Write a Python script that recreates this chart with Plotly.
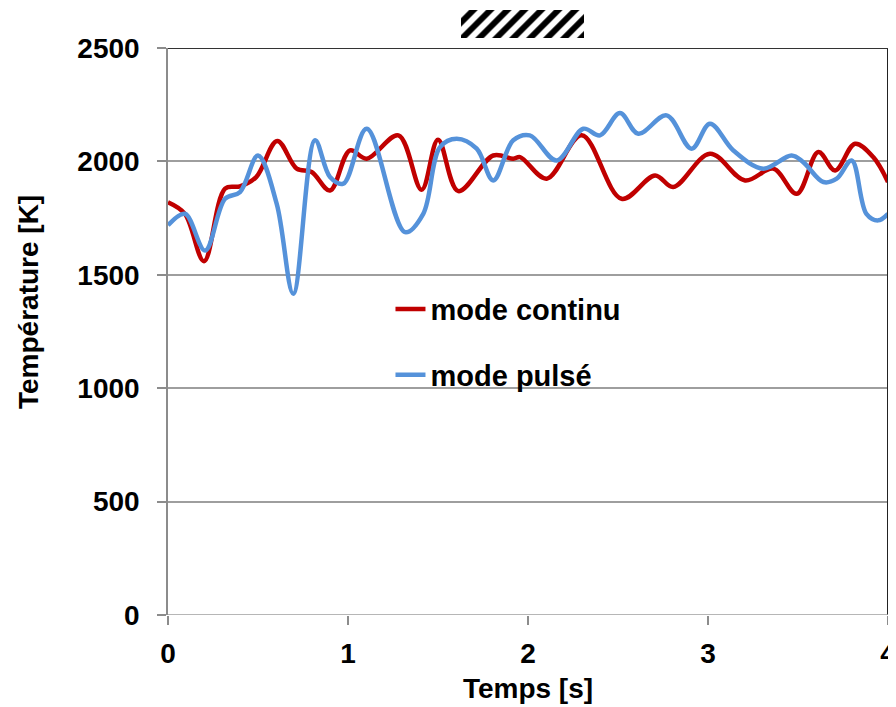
import plotly.graph_objects as go

# Data
t_continu = [0.0, 0.094, 0.20, 0.317, 0.40, 0.49, 0.607, 0.715, 0.798, 0.90, 1.011, 1.104, 1.28, 1.409,
             1.50, 1.613, 1.807, 1.918, 1.956, 2.104, 2.298, 2.52, 2.706, 2.807, 3.011, 3.206, 3.363,
             3.493, 3.613, 3.706, 3.817, 3.918, 4.0]
T_continu = [1820, 1769, 1560, 1880, 1890, 1931, 2090, 1968, 1953, 1872, 2049, 2012, 2115, 1875,
             2096, 1869, 2026, 2012, 2019, 1924, 2115, 1835, 1938, 1887, 2034, 1916, 1968,
             1857, 2041, 1960, 2078, 2019, 1909]

t_pulse = [0.0, 0.094, 0.206, 0.317, 0.40, 0.50, 0.604, 0.696, 0.817, 0.90, 0.974, 1.104, 1.317, 1.418,
           1.511, 1.604, 1.715, 1.807, 1.918, 2.01, 2.159, 2.307, 2.40, 2.511, 2.613, 2.77, 2.909,
           3.011, 3.141, 3.307, 3.464, 3.529, 3.641, 3.715, 3.798, 3.88, 3.946, 4.0]
T_pulse = [1718, 1769, 1607, 1835, 1865, 2026, 1813, 1416, 2093, 1931, 1902, 2144, 1688, 1769,
           2063, 2100, 2056, 1916, 2093, 2115, 2004, 2144, 2115, 2213, 2122, 2203, 2056,
           2166, 2048, 1968, 2026, 1997, 1909, 1924, 2004, 1769, 1740, 1769]

hatch_start = [1.63]
hatch_length = [0.68]

x_ticks = [0, 1, 2, 3, 4]
y_ticks = [0, 500, 1000, 1500, 2000, 2500]

x_title = "Temps [s]"
y_title = "Température [K]"

FONT = "Liberation Sans, Arial, sans-serif"
# the page body adds an 8px offset; figure coordinates are window coordinates minus 8
W, H = 896, 707
L, R, T, B = 160, 16, 0, 100
PLOT_TOP = 40
plot_h = H - T - B
top_main = (plot_h - PLOT_TOP) / plot_h

fig = go.Figure()
fig.add_trace(go.Scatter(x=t_continu, y=T_continu, mode="lines", name="mode continu",
                         line=dict(color="#C00000", width=4.5, shape="spline", smoothing=1.0),
                         legendgroup="a"))
fig.add_trace(go.Scatter(x=t_pulse, y=T_pulse, mode="lines", name="mode pulsé",
                         line=dict(color="#5592DA", width=4.5, shape="spline", smoothing=1.0),
                         legendgroup="b"))
fig.add_trace(go.Bar(x=hatch_length, base=hatch_start, y=[0], orientation="h", width=1,
                     xaxis="x", yaxis="y2", showlegend=False, hoverinfo="skip",
                     marker=dict(color="white", line=dict(width=0),
                                 pattern=dict(shape="/", fgcolor="black", bgcolor="white",
                                              fgopacity=1, size=12, solidity=0.5))))

tick_font = dict(size=28, family=FONT, color="black", weight="bold")

fig.update_layout(
    width=W, height=H,
    margin=dict(l=L, r=R, t=T, b=B, autoexpand=False),
    paper_bgcolor="white", plot_bgcolor="white",
    font=dict(family=FONT, color="black"),
    showlegend=True,
    legend=dict(x=0.309, y=0.546, xanchor="left", yanchor="top",
                font=dict(size=29, family=FONT, color="black", weight="bold"),
                tracegroupgap=25, bgcolor="rgba(0,0,0,0)"),
    xaxis=dict(range=[0, 4], tickvals=x_ticks, showgrid=False, zeroline=False,
               showline=False, ticks="outside", ticklen=9, tickcolor="#8C8C8C", tickwidth=1.5,
               tickfont=tick_font, automargin=False, ticklabelstandoff=4,
               title=dict(text=x_title, font=dict(size=28, family=FONT, color="black", weight="bold"),
                          standoff=10),
               anchor="y"),
    yaxis=dict(range=[0, 2500], tickvals=y_ticks, domain=[0, top_main],
               showgrid=True, gridcolor="#9E9E9E", gridwidth=1.5, zeroline=False,
               showline=True, linecolor="#8C8C8C", linewidth=1.5, mirror=False,
               ticks="outside", ticklen=9, tickcolor="#8C8C8C", tickwidth=1.5,
               tickfont=tick_font, automargin=False, ticklabelstandoff=12),
    yaxis2=dict(domain=[(plot_h - 30) / plot_h, (plot_h - 2) / plot_h], range=[-0.5, 0.5],
                visible=False, anchor="x", fixedrange=True),
    bargap=0,
)
fig.add_annotation(text=y_title, textangle=-90, showarrow=False,
                   xref="paper", yref="paper", x=(20 - L) / (W - L - R), y=(plot_h - 294) / plot_h,
                   xanchor="center", yanchor="middle",
                   font=dict(size=28, family=FONT, color="black", weight="bold"))
# plot frame: dark top and right edges, grey bottom edge
fig.add_shape(type="line", xref="x", yref="y", x0=4, x1=4, y0=0, y1=2500,
              line=dict(color="#222222", width=2))
fig.add_shape(type="line", xref="x", yref="y", x0=0, x1=4, y0=2500, y1=2500,
              line=dict(color="#333333", width=2))
fig.add_shape(type="line", xref="x", yref="y", x0=0, x1=4, y0=0, y1=0,
              line=dict(color="#9E9E9E", width=1.5))

fig.write_html("out.html")
